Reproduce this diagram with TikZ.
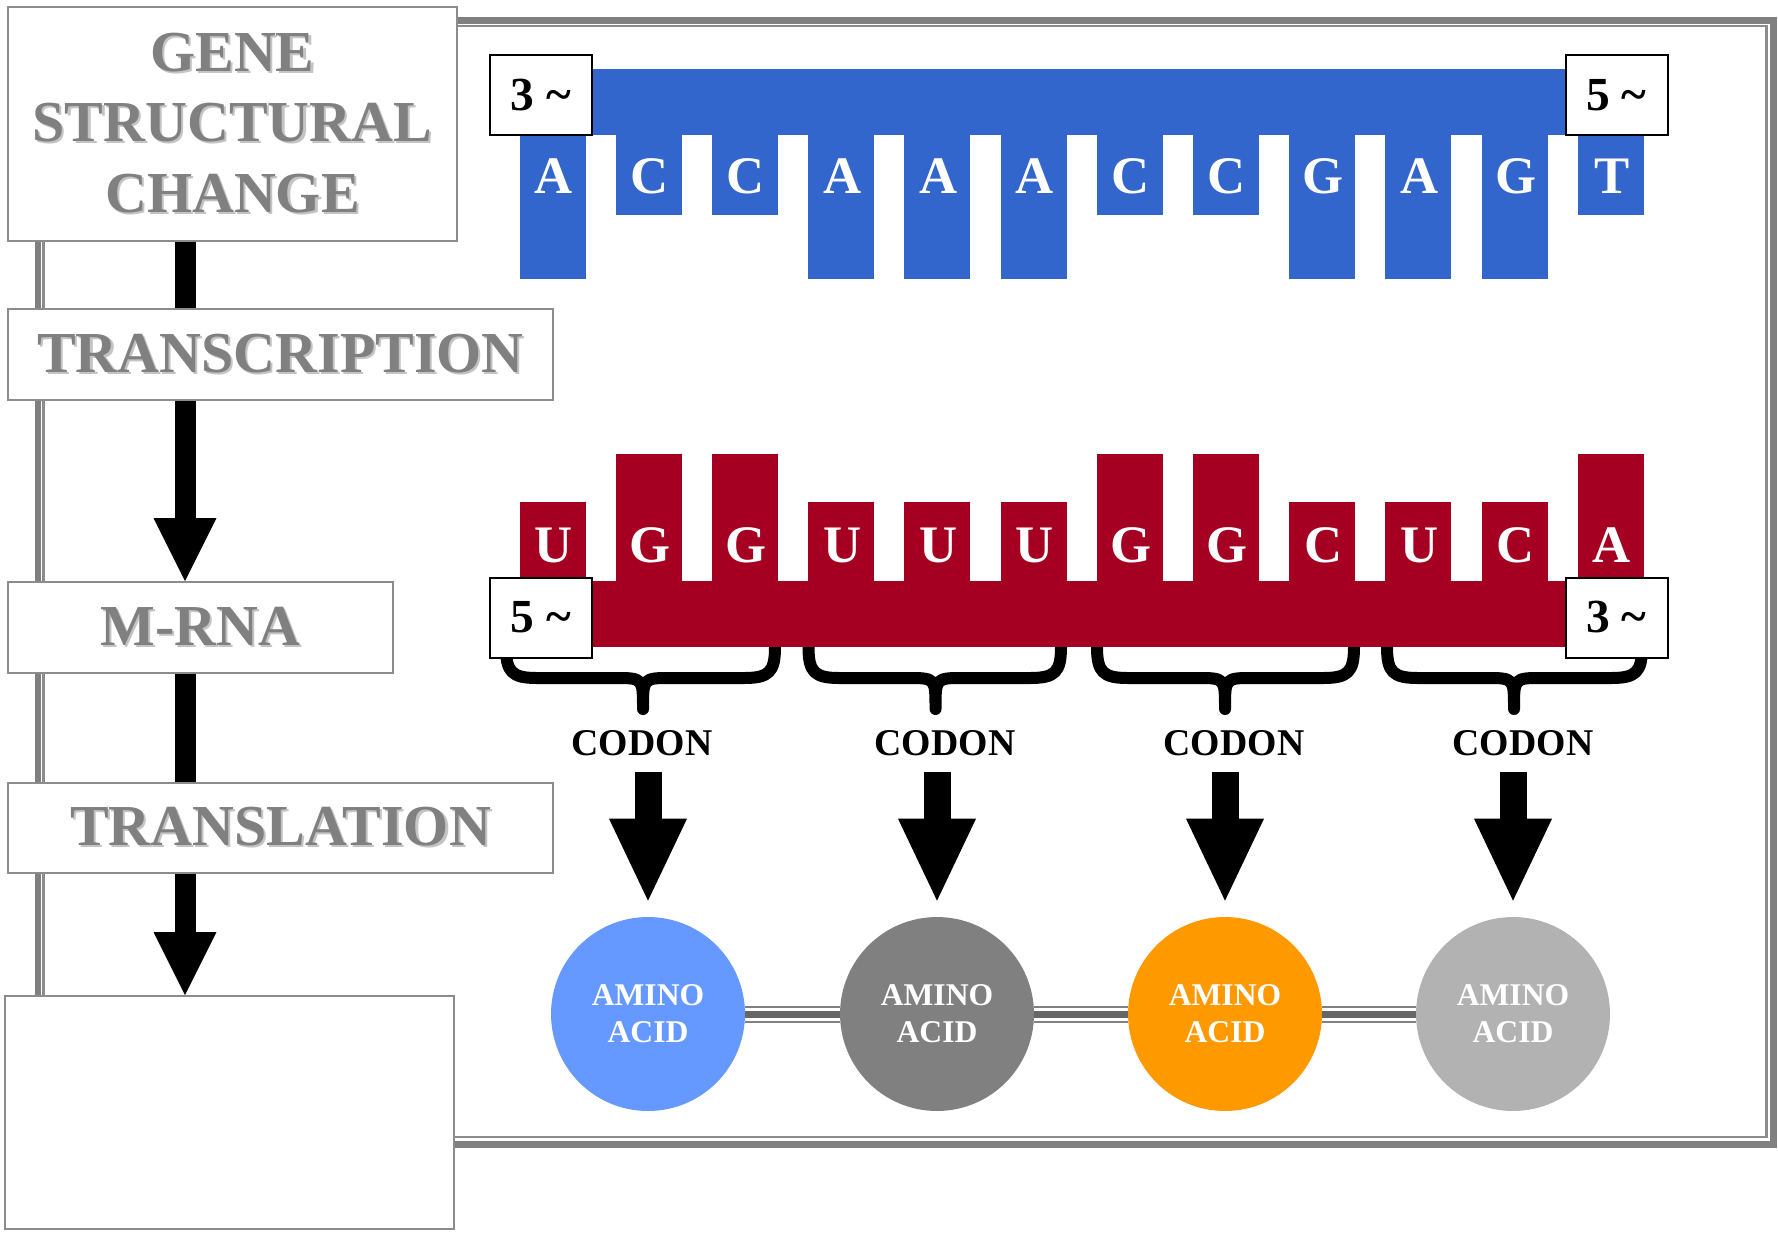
\documentclass[tikz,border=0pt]{standalone}
\usepackage{fontspec}
\setmainfont{Liberation Serif}
\usetikzlibrary{arrows.meta}

\definecolor{dnablue}{HTML}{3366CC}
\definecolor{rnared}{HTML}{A50021}
\definecolor{labelgray}{HTML}{808080}
\definecolor{labelshadow}{HTML}{C4C4C4}
\definecolor{boxgray}{HTML}{8C8C8C}
\definecolor{aminoblue}{HTML}{6699FF}
\definecolor{aminogray}{HTML}{808080}
\definecolor{aminoorange}{HTML}{FF9900}
\definecolor{aminolight}{HTML}{B2B2B2}
\definecolor{bonddark}{HTML}{666666}

\newcommand\shadowtext[1]{\makebox[0pt][l]{\kern1.2pt\raisebox{-1.2pt}{\color{labelshadow}#1}}#1}

\begin{document}
\begin{tikzpicture}[x=0.02cm,y=-0.02cm,
    stagebox/.style={draw=boxgray,line width=0.04cm,fill=white,inner sep=0pt,align=center,
        text=labelgray,font={\bfseries\fontsize{33}{40}\selectfont}},
    mainline/.style={line width=0.42cm},
    mainarrow/.style={line width=0.42cm,-{Triangle[length=1.26cm,width=1.26cm,line width=0pt]}},
    nuc/.style={text=white,inner sep=0pt,font={\bfseries\fontsize{30}{30}\selectfont}},
    endbox/.style={draw=black,line width=0.04cm,fill=white,inner sep=0pt,
        minimum width=2.04cm,minimum height=1.6cm,font={\bfseries\fontsize{27}{27}\selectfont}},
    codonbrace/.style={line width=0.24cm,line join=round},
    codon/.style={inner sep=0pt,font={\bfseries\fontsize{21.5}{21.5}\selectfont}},
    codonarrow/.style={line width=0.54cm,-{Triangle[length=1.64cm,width=1.56cm,line width=0pt]},
        shorten <=0.32cm,shorten >=0.32cm},
    amino/.style={circle,minimum size=3.88cm,inner sep=0pt,text=white,align=center,
        font={\bfseries\fontsize{18}{21}\selectfont}},
    pepbond/.style={line width=0.34cm,draw=labelgray,
        postaction={draw=white,line width=0.26cm},
        postaction={draw=bonddark,line width=0.14cm}}]
    \useasboundingbox (0,0) rectangle (1778,1232);

    % outer frame
    \draw[labelgray,line width=0.14cm] (38,20.5) rectangle (1773.5,1144.5);
    \draw[boxgray,line width=0.05cm] (43.5,26) rectangle (1766.5,1137);

    % stages on the left
    \node[stagebox,minimum width=8.98cm,minimum height=4.68cm] (G) at (232.5,124)
        {\shadowtext{GENE}\\\shadowtext{STRUCTURAL}\\\shadowtext{CHANGE}};
    \node[stagebox,minimum width=10.9cm,minimum height=1.82cm] (T) at (280.5,354.5) {\shadowtext{TRANSCRIPTION}};
    \node[stagebox,minimum width=7.7cm,minimum height=1.82cm] (M) at (200.5,627.5) {\shadowtext{M-RNA}};
    \node[stagebox,minimum width=10.9cm,minimum height=1.8cm] (L) at (280.5,828) {\shadowtext{TRANSLATION}};
    \node[stagebox,minimum width=8.98cm,minimum height=4.66cm] (E) at (229.5,1112.5) {};

    \coordinate (spine) at (185,0);
    \draw[mainline] (G.south -| spine) -- (T.north -| spine);
    \draw[mainarrow] (T.south -| spine) -- (M.north -| spine);
    \draw[mainline] (M.south -| spine) -- (L.north -| spine);
    \draw[mainarrow] (L.south -| spine) -- (E.north -| spine);

    % codon braces (under the m-rna strand)
    \foreach \l/\m/\r in {506/643/775,808.5/935.5/1061,1097/1225/1354,1387/1514/1642} {
        \draw[codonbrace] (\l,640) -- (\l,647) .. controls (\l,672) and (\l+6,678) .. (\l+31,678) -- (\m-28,678)
            .. controls (\m,678) .. (\m,709) .. controls (\m,678) .. (\m+28,678) -- (\r-31,678)
            .. controls (\r-6,678) and (\r,672) .. (\r,647) -- (\r,640);
    }

    % DNA strand
    \fill[dnablue] (560,69) rectangle (1600,135);
    \foreach \b/\h [count=\i from 0] in {A/279,C/215,C/215,A/279,A/279,A/279,C/215,C/215,G/279,A/279,G/279,T/215} {
        \fill[dnablue] (519.5+96.2*\i,135) rectangle (585.5+96.2*\i,\h);
        \node[nuc] (d\i) at (553.5+96.2*\i,176.5) {\b};
    }
    \node[endbox] (D3) at (541,95) {3 \textasciitilde};
    \node[endbox] (D5) at (1616.5,95) {5 \textasciitilde};

    % m-rna strand
    \fill[rnared] (560,581) rectangle (1600,647);
    \foreach \b/\h [count=\i from 0] in {U/502,G/454,G/454,U/502,U/502,U/502,G/454,G/454,C/502,U/502,C/502,A/454} {
        \fill[rnared] (519.5+96.2*\i,\h) rectangle (585.5+96.2*\i,582);
        \node[nuc] (r\i) at (553.5+96.2*\i,545) {\b};
    }
    \node[endbox] (R5) at (541,617.5) {5 \textasciitilde};
    \node[endbox] (R3) at (1616.5,617.5) {3 \textasciitilde};

    % codons and amino acids
    \foreach \k/\m/\t/\c in {0/648/642/aminoblue,1/937/945/aminogray,2/1225/1234/aminoorange,3/1513/1523/aminolight} {
        \node[codon] (c\k) at (\t,743) {CODON};
        \node[amino,fill=\c] (a\k) at (\m,1014) {AMINO\\ACID};
        \draw[codonarrow] (c\k.south -| a\k.north) -- (a\k.north);
    }
    \draw[pepbond] (a0) -- (a1);
    \draw[pepbond] (a1) -- (a2);
    \draw[pepbond] (a2) -- (a3);
\end{tikzpicture}
\end{document}
